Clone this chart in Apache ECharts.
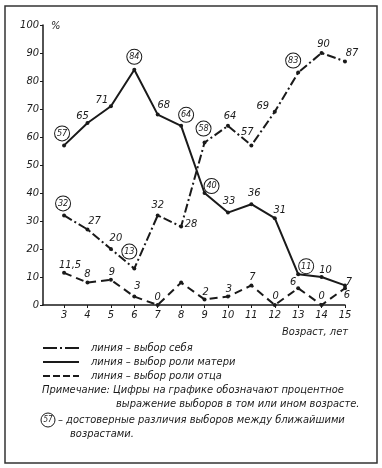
<!DOCTYPE html>
<html>
<head>
<meta charset="utf-8">
<script src="https://cdn.jsdelivr.net/npm/echarts@6/dist/echarts.min.js"></script>
<style>
html,body{margin:0;padding:0;background:#fff;}
#chart{width:382px;height:468px;}
</style>
</head>
<body>
<div id="chart"></div>
<script>
// ---- data ----
const ages = [3, 4, 5, 6, 7, 8, 9, 10, 11, 12, 13, 14, 15];
const selfChoice = [32, 27, 20, 13, 32, 28, 58, 64, 57, 69, 83, 90, 87];
const motherRole = [57, 65, 71, 84, 68, 64, 40, 33, 36, 31, 11, 10, 7];
const fatherRole = [11.5, 8, 9, 3, 0, 8, 2, 3, 7, 0, 6, 0, 6];
const selfSignificantAges = [3, 6, 9, 13];
const motherSignificantAges = [3, 6, 8, 9, 13];
const fatherUnlabeledAges = [8];
const yTicks = [0, 10, 20, 30, 40, 50, 60, 70, 80, 90, 100];
const seriesNames = ['линия – выбор себя', 'линия – выбор роли матери', 'линия – выбор роли отца'];
const xAxisTitle = 'Возраст, лет';
const yAxisUnit = '%';
const noteLines = [
  'Примечание: Цифры на графике обозначают процентное',
  'выражение выборов в том или ином возрасте.'
];
const significanceSample = '57';
const significanceLines = ['– достоверные различия выборов между ближайшими', 'возрастами.'];

// ---- layout (label offsets in px, per point) ----
const selfOffsets = [[-1,-12],[7,-8],[5,-11],[-5,-17],[0,-10],[10,-2],[-1,-14],[2,-10],[-4,-13],[-12,-6],[-5,-12],[2,-9],[7,-8]];
const motherOffsets = [[-2,-12],[-5,-7],[-9,-6],[0,-13],[6,-9],[5,-11],[7,-7],[1,-11],[3,-11],[5,-8],[8,-8],[4,-7],[4,-3]];
const fatherOffsets = [[6,-8],[0,-8],[1,-8],[3,-10],[0,-8],[0,-8],[1,-7],[1,-7],[1,-8],[1,-9],[-5,-6],[0,-9],[2,7]];

const FONT = '"DejaVu Sans Condensed", "DejaVu Sans", sans-serif';
const INK = '#1a1a1a';

function fmt(v) { return String(v).replace('.', ','); }

function buildData(values, offsets, circled, hidden) {
  return ages.map(function (a, i) {
    const isC = circled.indexOf(a) >= 0;
    const isH = hidden.indexOf(a) >= 0;
    return {
      value: [a, values[i]],
      label: {
        show: !isH,
        offset: offsets[i],
        formatter: isC ? '{c|' + fmt(values[i]) + '}' : fmt(values[i])
      }
    };
  });
}

const labelBase = {
  show: true,
  position: 'inside',
  color: INK,
  fontFamily: FONT,
  fontStyle: 'italic',
  fontSize: 11,
  align: 'center',
  verticalAlign: 'middle',
  rich: {
    c: {
      width: 14, height: 14, lineHeight: 14,
      borderRadius: 7.5, borderWidth: 1, borderColor: INK,
      backgroundColor: '#fff', align: 'center',
      fontSize: 9, fontStyle: 'italic', fontFamily: FONT, color: INK
    }
  }
};

function mkSeries(name, values, offsets, circled, hidden, dash) {
  return {
    name: name,
    type: 'line',
    data: buildData(values, offsets, circled, hidden),
    symbol: 'circle',
    symbolSize: 4,
    itemStyle: { color: INK },
    lineStyle: { color: INK, width: 2, type: dash },
    label: labelBase,
    z: 3,
    animation: false
  };
}

const chart = echarts.init(document.getElementById('chart'), null, { renderer: 'canvas' });

const option = {
  backgroundColor: '#fff',
  animation: false,
  grid: { left: 43, right: 37, top: 25, bottom: 163 },
  xAxis: {
    type: 'value', min: 2.1, max: 15,
    axisLine: { lineStyle: { color: INK, width: 1.5 } },
    axisTick: { show: true, length: 3, customValues: ages, lineStyle: { color: INK } },
    axisLabel: { customValues: ages, color: INK, fontFamily: FONT, fontStyle: 'italic', fontSize: 11, margin: 5 },
    splitLine: { show: false }
  },
  yAxis: {
    type: 'value', min: 0, max: 100, interval: 10,
    axisLine: { show: true, lineStyle: { color: INK, width: 1.5 } },
    axisTick: { show: true, length: 3, lineStyle: { color: INK } },
    axisLabel: { color: INK, fontFamily: FONT, fontStyle: 'italic', fontSize: 11, margin: 4 },
    splitLine: { show: false }
  },
  series: [
    mkSeries(seriesNames[0], selfChoice, selfOffsets, selfSignificantAges, [], [9, 3, 2, 3]),
    mkSeries(seriesNames[1], motherRole, motherOffsets, motherSignificantAges, [], 'solid'),
    mkSeries(seriesNames[2], fatherRole, fatherOffsets, [], fatherUnlabeledAges, [8, 5])
  ]
};
chart.setOption(option);

// ---- annotations (legend, notes, frame) ----
const txt = function (x, y, s, align) {
  return { type: 'text', x: x, y: y, style: { text: s, fill: INK, font: 'italic 11px ' + FONT, textAlign: align || 'left', textVerticalAlign: 'middle' } };
};
const topLeft = chart.convertToPixel({ gridIndex: 0 }, [2.1, 100]);
const legY = [348, 362, 376];
const dashes = [[14, 3, 2, 3], null, [7, 3]];
const graphics = [
  { type: 'rect', shape: { x: 5, y: 6, width: 372, height: 457 }, style: { fill: null, stroke: '#333', lineWidth: 1.5 }, silent: true },
  txt(topLeft[0] + 8, topLeft[1] + 1, yAxisUnit),
  txt(348, 332, xAxisTitle, 'right')
];
for (let i = 0; i < 3; i++) {
  graphics.push({ type: 'line', shape: { x1: 43, y1: legY[i], x2: 79, y2: legY[i] }, style: { stroke: INK, lineWidth: 2, lineDash: dashes[i] } });
  graphics.push(txt(91, legY[i], seriesNames[i]));
}
graphics.push(txt(42, 390, noteLines[0]));
graphics.push(txt(116, 404, noteLines[1]));
graphics.push({ type: 'circle', shape: { cx: 48, cy: 420, r: 7 }, style: { fill: '#fff', stroke: INK, lineWidth: 1 } });
graphics.push({ type: 'text', x: 48, y: 420, style: { text: significanceSample, fill: INK, font: 'italic 8px ' + FONT, textAlign: 'center', textVerticalAlign: 'middle' } });
graphics.push(txt(58, 420, significanceLines[0]));
graphics.push(txt(70, 434, significanceLines[1]));
chart.setOption({ graphic: graphics });
</script>
</body>
</html>
